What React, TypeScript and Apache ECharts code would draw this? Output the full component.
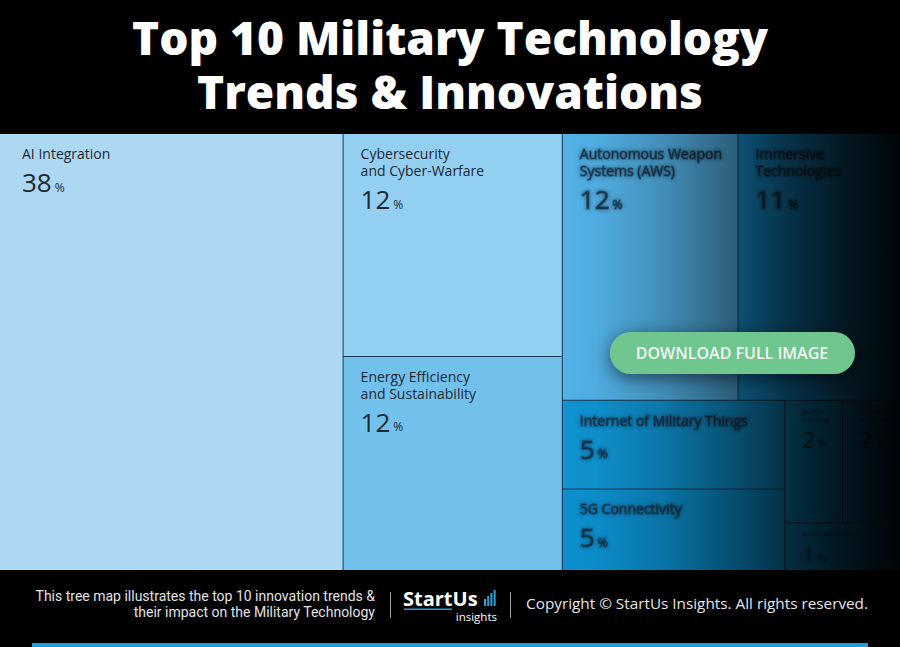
import React, { useEffect, useRef } from "react";
import * as echarts from "echarts";

const TITLE = "Top 10 Military Technology\nTrends & Innovations";

const trendNames = [
  "AI Integration",
  "Cybersecurity\nand Cyber-Warfare",
  "Energy Efficiency\nand Sustainability",
  "Autonomous Weapon\nSystems (AWS)",
  "Immersive\nTechnologies",
  "Internet of Military Things",
  "5G Connectivity",
  "Quantum\nComputing",
  "Big Data\n& Analytics",
  "Additive Manufacturing",
];
// share of each trend (%)
const trendShares = [38.1, 12.4, 11.9, 11.9, 11.0, 5.0, 4.6, 1.8, 1.8, 1.4];
const cellColors = [
  "#acd8f3",
  "#93cff1",
  "#72c1ec",
  "#52b1e6",
  "#169be0",
  "#0f93d1",
  "#0c90cf",
  "#0b8bc9",
  "#0a89c7",
  "#0a87c5",
];
// nesting of the trends inside the tree map (indices into the arrays above)
const nesting: any[] = [[0, 1, 2], [3, 4, [5, 6, [7, 8, 9]]]];

const footerLines = [
  "This tree map illustrates the top 10 innovation trends &",
  "their impact on the Military Technology",
];
const copyrightText = "Copyright © StartUs Insights. All rights reserved.";

const DARK = "#1d2833";

function labelFor(i: number) {
  const blurred = i >= 3;
  const small = trendShares[i] < 3;
  const col = blurred ? "rgba(18,38,58,0.75)" : DARK;
  const blur = blurred
    ? {
        textShadowColor: "rgba(18,38,58,0.9)",
        textShadowBlur: 4,
        textBorderColor: "rgba(18,38,58,0.35)",
        textBorderWidth: small ? 0 : 1.5,
      }
    : {};
  return {
    padding: [small ? 7 : 11, 0, 0, i === 0 ? 22 : 17],
    rich: {
      name: {
        fontFamily: "Open Sans",
        fontSize: small ? 5 : 14,
        lineHeight: small ? 8 : 17,
        color: col,
        ...blur,
      },
      val: {
        fontFamily: "Open Sans",
        fontSize: small ? 22 : 26,
        lineHeight: small ? 31 : 40,
        color: col,
        ...blur,
      },
      pct: {
        fontFamily: "Open Sans",
        fontSize: small ? 10 : 12,
        padding: [small ? 8 : 10, 0, 0, 3],
        color: col,
        ...blur,
      },
    },
  };
}

function build(node: any): any {
  if (typeof node === "number") {
    return {
      name: trendNames[node],
      value: trendShares[node],
      itemStyle: { color: cellColors[node] },
      label: labelFor(node),
    };
  }
  const children = node.map(build);
  return {
    name: "group",
    value: children.reduce((s: number, c: any) => s + c.value, 0),
    children,
  };
}

const treeData = nesting.map(build);

function makeOption(): any {
  const bars = [7, 10, 13, 16];
  return {
    animation: false,
    backgroundColor: "#000",
    title: {
      text: TITLE,
      left: "center",
      top: 5,
      textStyle: {
        color: "#fff",
        fontFamily: "Open Sans",
        fontWeight: 800,
        fontSize: 46,
        lineHeight: 54,
      },
    },
    series: [
      {
        type: "treemap",
        left: 0,
        top: 134,
        right: 0,
        bottom: 77,
        roam: false,
        nodeClick: false,
        sort: false,
        squareRatio: 1.45,
        breadcrumb: { show: false },
        silent: true,
        itemStyle: { borderWidth: 0, gapWidth: 1, borderColor: "#1c3a52" },
        upperLabel: { show: false },
        label: {
          show: true,
          position: "insideTopLeft",
          distance: 0,
          formatter: (p: any) =>
            `{name|${p.name}}\n{val|${Math.round(p.value)}}{pct|%}`,
        },
        data: treeData,
      },
    ],
    graphic: [
      {
        type: "rect",
        silent: true,
        z: 50,
        shape: { x: 563, y: 134, width: 337, height: 436 },
        style: {
          fill: {
            type: "linear",
            x: 0,
            y: 0,
            x2: 1,
            y2: 0,
            colorStops: [
              { offset: 0, color: "rgba(0,0,0,0)" },
              { offset: 0.1, color: "rgba(0,0,0,0.03)" },
              { offset: 0.3, color: "rgba(0,0,0,0.2)" },
              { offset: 0.5, color: "rgba(0,0,0,0.45)" },
              { offset: 0.66, color: "rgba(0,0,0,0.67)" },
              { offset: 0.83, color: "rgba(0,0,0,0.84)" },
              { offset: 1, color: "rgba(0,0,0,0.97)" },
            ],
          },
        },
      },
      {
        type: "rect",
        silent: true,
        z: 60,
        shape: { x: 610, y: 332, width: 245, height: 42, r: 21 },
        style: {
          fill: "#70c68f",
          shadowBlur: 18,
          shadowColor: "rgba(0,0,0,0.55)",
          shadowOffsetY: 4,
        },
      },
      {
        type: "text",
        silent: true,
        z: 61,
        style: {
          text: "DOWNLOAD FULL IMAGE",
          x: 732,
          y: 353,
          align: "center",
          verticalAlign: "middle",
          fill: "#f2f7f3",
          font: "600 16px 'Open Sans'",
        },
      },
      {
        type: "text",
        silent: true,
        style: {
          text: footerLines[0],
          x: 375,
          y: 596,
          align: "right",
          verticalAlign: "middle",
          fill: "#e2e2e2",
          font: "14px Roboto",
        },
      },
      {
        type: "text",
        silent: true,
        style: {
          text: footerLines[1],
          x: 375,
          y: 612,
          align: "right",
          verticalAlign: "middle",
          fill: "#e2e2e2",
          font: "14px Roboto",
        },
      },
      {
        type: "line",
        silent: true,
        shape: { x1: 390.5, y1: 592, x2: 390.5, y2: 618 },
        style: { stroke: "#9a9a9a", lineWidth: 1 },
      },
      {
        type: "line",
        silent: true,
        shape: { x1: 510.5, y1: 592, x2: 510.5, y2: 618 },
        style: { stroke: "#9a9a9a", lineWidth: 1 },
      },
      {
        type: "text",
        silent: true,
        style: {
          text: "StartUs",
          x: 403,
          y: 598,
          align: "left",
          verticalAlign: "middle",
          fill: "#ffffff",
          font: "bold 20px 'Open Sans'",
        },
      },
      ...bars.map((h, k) => ({
        type: "rect",
        silent: true,
        shape: { x: 484 + k * 3.2, y: 606 - h, width: 2, height: h },
        style: { fill: "#2ca0db" },
      })),
      {
        type: "rect",
        silent: true,
        shape: { x: 404, y: 608.5, width: 48, height: 1.6 },
        style: { fill: "#2ca0db" },
      },
      {
        type: "text",
        silent: true,
        style: {
          text: "insights",
          x: 497,
          y: 616,
          align: "right",
          verticalAlign: "middle",
          fill: "#ffffff",
          font: "11.5px 'Open Sans'",
        },
      },
      {
        type: "text",
        silent: true,
        style: {
          text: copyrightText,
          x: 868,
          y: 603,
          align: "right",
          verticalAlign: "middle",
          fill: "#e6e6e6",
          font: "15.3px 'Open Sans'",
        },
      },
      {
        type: "rect",
        silent: true,
        shape: { x: 32, y: 643, width: 836, height: 4 },
        style: { fill: "#1e9fd8" },
      },
    ],
  };
}

export default function App() {
  const ref = useRef<HTMLDivElement>(null);
  useEffect(() => {
    document.body.style.margin = "0";
    const chart = echarts.init(ref.current!, null, { renderer: "svg" });
    chart.setOption(makeOption());
    return () => chart.dispose();
  }, []);
  return (
    <div
      ref={ref}
      style={{ width: 900, height: 647, background: "#000" }}
    />
  );
}
